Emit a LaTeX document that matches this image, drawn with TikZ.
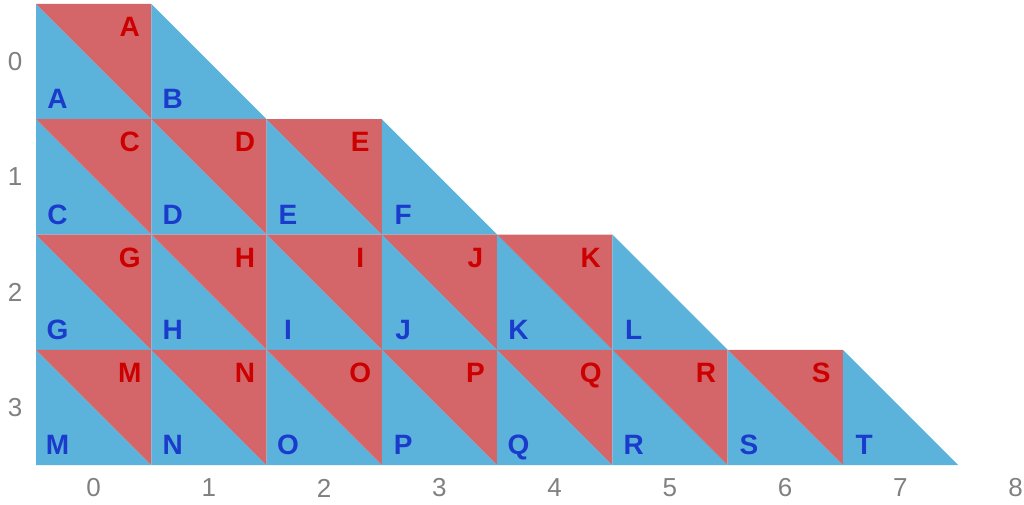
\documentclass[tikz,border=0pt]{standalone}
\usepackage{fontspec}
\setmainfont{Liberation Sans}
\definecolor{cellblue}{RGB}{91,179,220}
\definecolor{cellred}{RGB}{212,102,106}
\definecolor{lblblue}{RGB}{27,59,204}
\definecolor{lblred}{RGB}{204,0,0}
\definecolor{axisgray}{RGB}{128,128,128}
\begin{document}
\begin{tikzpicture}[x=1pt,y=-1pt,
  bluetri/.style={fill=cellblue},
  redtri/.style={fill=cellred},
  bluelbl/.style={anchor=base,inner sep=0pt,text=lblblue,font=\fontsize{28}{28}\selectfont\bfseries},
  redlbl/.style={anchor=base,inner sep=0pt,text=lblred,font=\fontsize{28}{28}\selectfont\bfseries},
  axislbl/.style={inner sep=0pt,text=axisgray,font=\fontsize{26}{26}\selectfont}]
\useasboundingbox (0,0) rectangle (1024,505);
\def\s{115.25}
\foreach \c/\r/\l/\full in {0/0/A/1,1/0/B/0,
  0/1/C/1,1/1/D/1,2/1/E/1,3/1/F/0,
  0/2/G/1,1/2/H/1,2/2/I/1,3/2/J/1,4/2/K/1,5/2/L/0,
  0/3/M/1,1/3/N/1,2/3/O/1,3/3/P/1,4/3/Q/1,5/3/R/1,6/3/S/1,7/3/T/0}{
  \pgfmathsetmacro\xa{36+\c*\s}
  \pgfmathsetmacro\ya{4+\r*\s}
  \pgfmathsetmacro\xb{\xa+\s}
  \pgfmathsetmacro\yb{\ya+\s}
  \fill[bluetri] (\xa,\ya) -- (\xa,\yb) -- (\xb,\yb) -- cycle;
  \node[bluelbl] (b\l) at (\xa+21.5,\yb-10.5) {\l};
  \ifnum\full=1
    \fill[redtri] (\xa,\ya) -- (\xb,\ya) -- (\xb,\yb) -- cycle;
    \node[redlbl] (r\l) at (\xb-21.5,\ya+32.5) {\l};
  \fi
}
\foreach \i in {0,...,8}{
  \node[axislbl] (x\i) at ({36+(\i+0.5)*\s},488) {\i};
}
\foreach \i in {0,...,3}{
  \node[axislbl] (y\i) at (15,{4+(\i+0.5)*\s}) {\i};
}
\end{tikzpicture}
\end{document}
